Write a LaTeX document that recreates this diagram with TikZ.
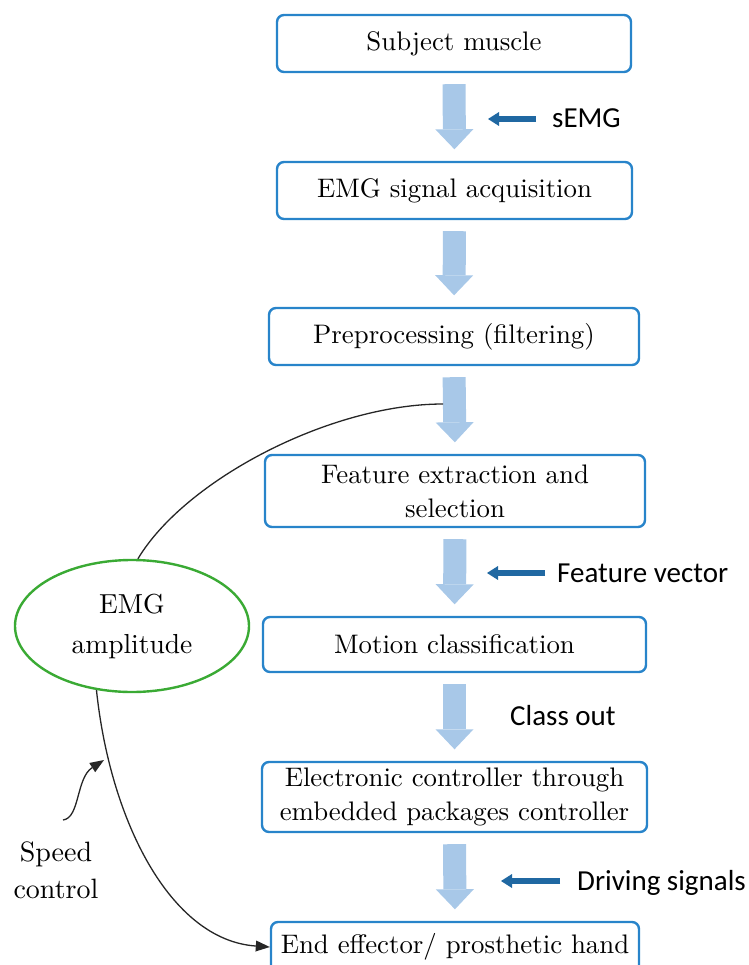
\documentclass[tikz,border=0pt]{standalone}
\usepackage{fontspec}
\newfontfamily\calib{Carlito}
\newfontfamily\serifb{lmroman10-regular.otf}
\usetikzlibrary{arrows.meta,shapes.geometric}
\definecolor{boxblue}{RGB}{40,132,202}
\definecolor{lightarrow}{RGB}{168,200,232}
\definecolor{darkarrow}{RGB}{32,104,162}
\definecolor{ellgreen}{RGB}{58,170,52}
\tikzset{
  stepbox/.style={draw=boxblue, line width=2.4pt, rounded corners=7pt, align=center, inner sep=2pt, font=\serifb\fontsize{26.8}{34}\selectfont},
  bigarrow/.style={draw=lightarrow, line width=23pt, shorten <=11pt, shorten >=11.5pt, -{Triangle[length=20pt,width=38pt,line width=0pt]}},
  smallarrow/.style={draw=darkarrow, line width=5.5pt, -{Triangle[length=11pt,width=14pt,line width=0pt]}},
  sidelabel/.style={font=\calib\fontsize{29}{34}\selectfont, anchor=base west, inner sep=0pt},
  fbline/.style={draw=black!85, line width=1.3pt},
  curvetip/.style={-{Triangle[length=14pt,width=11pt,line width=0pt]}}
}
\begin{document}
\begin{tikzpicture}[x=1pt,y=-1pt]
\useasboundingbox (0,0) rectangle (748,965);

% main boxes
\node[stepbox, minimum width=354pt, minimum height=57pt] (sm)  at (454,43.5)  {Subject muscle};
\node[stepbox, minimum width=355pt, minimum height=57pt] (acq) at (454.5,190.5) {EMG signal acquisition};
\node[stepbox, minimum width=370pt, minimum height=57pt] (pre) at (454,336.5) {Preprocessing (filtering)};
\node[stepbox, minimum width=380pt, minimum height=72pt] (feat) at (455,491) {Feature extraction and\\selection};
\node[stepbox, minimum width=383pt, minimum height=55pt] (mot) at (454.5,644.5) {Motion classification};
\node[stepbox, minimum width=385pt, minimum height=70pt] (elec) at (454.5,797) {Electronic controller through\\embedded packages controller};
\node[stepbox, minimum width=368pt, minimum height=50pt] (eff) at (455,947) {End effector/ prosthetic hand};

% big arrows
\draw[bigarrow] (sm.south) -- (acq.north);
\draw[bigarrow] (acq.south) -- (pre.north);
\draw[bigarrow] (pre.south) -- (feat.north);
\draw[bigarrow] (feat.south) -- (mot.north);
\draw[bigarrow] (mot.south) -- (elec.north);
\draw[bigarrow] (elec.south) -- (eff.north);

% side labels
\node[sidelabel] (semg) at (552,128) {sEMG};
\node[sidelabel] (fvec) at (557,582) {Feature vector};
\node[sidelabel] (cout) at (510,725) {Class out};
\node[sidelabel] (drv)  at (577,890) {Driving signals};
\draw[smallarrow] ([xshift=-16pt,yshift=9pt]semg.base west) -- ++(-48,0);
\draw[smallarrow] ([xshift=-12pt,yshift=9pt]fvec.base west) -- ++(-58,0);
\draw[smallarrow] ([xshift=-17pt,yshift=9pt]drv.base west) -- ++(-59,0);

% ellipse
\node[draw=ellgreen, line width=2.4pt, ellipse, minimum width=234pt, minimum height=132pt, inner sep=0pt, align=center, font=\serifb\fontsize{27.5}{40}\selectfont] (ell) at (132,626) {EMG\\amplitude};

% feedback curves
\coordinate (fb) at (443,404);
\draw[fbline] (ell.85) .. controls (185,480) and (330,404) .. (fb);
\draw[fbline, curvetip] (ell.241) .. controls (110,820) and (170,940) .. (eff.west);

% speed control
\node[align=center, font=\serifb\fontsize{28}{37}\selectfont, inner sep=0pt] (spd) at (56,870) {Speed\\control};
\coordinate (spdstart) at (63,820);
\coordinate (spdtip) at (104,760);
\draw[fbline, curvetip] (spdstart) .. controls (80,818) and (76,778) .. (spdtip);
\end{tikzpicture}
\end{document}
